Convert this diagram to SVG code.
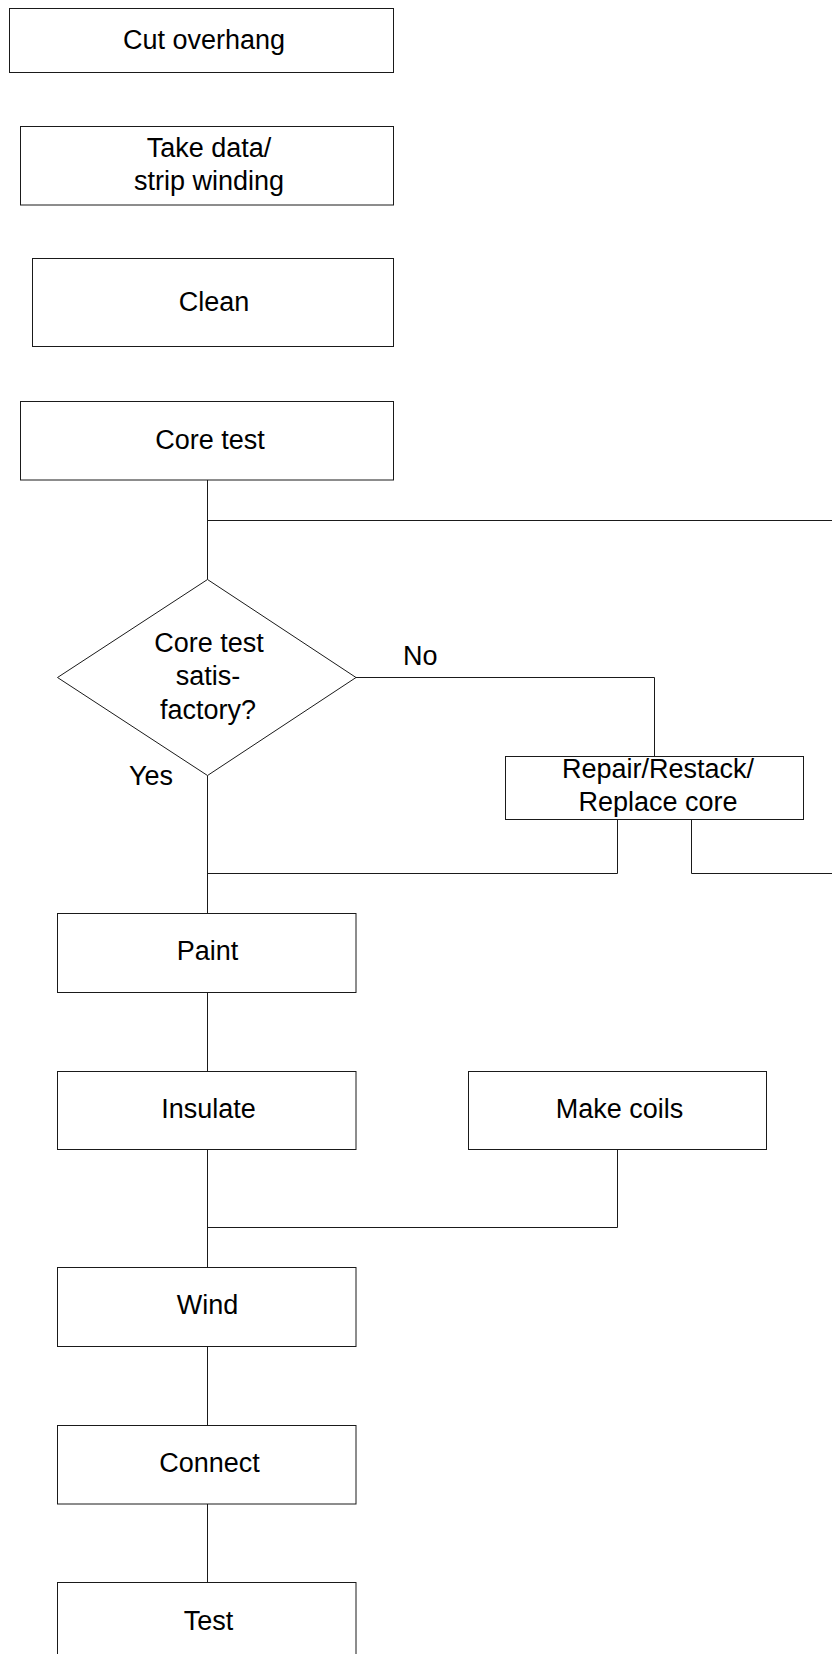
<svg xmlns="http://www.w3.org/2000/svg" width="832" height="1654" viewBox="0 0 832 1654">
<style>
.box{fill:#fff;stroke:#1a1a1a;stroke-width:1}
.ln{fill:none;stroke:#1a1a1a;stroke-width:1}
text{font-family:"Liberation Sans",Arial,sans-serif;font-size:27px;fill:#000;text-anchor:middle}
.lbl{text-anchor:start}
</style>
<rect width="832" height="1654" fill="#fff"/>
<g id="connectors">
<path class="ln" d="M207.5 480V579.5"/>
<path class="ln" d="M207.5 520.5H832"/>
<path class="ln" d="M356 677.5H654.5V756.5"/>
<path class="ln" d="M617.5 819.5V873.5H207.5"/>
<path class="ln" d="M691.5 819.5V873.5H832"/>
<path class="ln" d="M207.5 775.5V913.5"/>
<path class="ln" d="M207.5 992.5V1071.5"/>
<path class="ln" d="M207.5 1149.5V1267.5"/>
<path class="ln" d="M617.5 1149.5V1227.5H207.5"/>
<path class="ln" d="M207.5 1346.5V1425.5"/>
<path class="ln" d="M207.5 1504V1582.5"/>
<text class="lbl" x="403" y="665">No</text>
<text class="lbl" x="129" y="785">Yes</text>
</g>
<g id="cut-overhang"><rect class="box" x="9.5" y="8.5" width="384" height="64"/><text x="204" y="48.5">Cut overhang</text></g>
<g id="take-data"><rect class="box" x="20.5" y="126.5" width="373" height="78.5"/><text x="209" y="157">Take data/</text><text x="209" y="190">strip winding</text></g>
<g id="clean"><rect class="box" x="32.5" y="258.5" width="361" height="88"/><text x="214" y="310.5">Clean</text></g>
<g id="core-test"><rect class="box" x="20.5" y="401.5" width="373" height="78.5"/><text x="210" y="449">Core test</text></g>
<g id="decision"><polygon class="box" points="207.5,579.5 356,677.5 207.5,775.5 57.5,677.5"/><text x="209" y="651.5">Core test</text><text x="208" y="685">satis-</text><text x="208" y="718.5">factory?</text></g>
<g id="repair"><rect class="box" x="505.5" y="756.5" width="298" height="63"/><text x="658" y="777.5">Repair/Restack/</text><text x="658" y="811">Replace core</text></g>
<g id="paint"><rect class="box" x="57.5" y="913.5" width="298.5" height="79"/><text x="207.5" y="960">Paint</text></g>
<g id="insulate"><rect class="box" x="57.5" y="1071.5" width="298.5" height="78"/><text x="208.5" y="1117.5">Insulate</text></g>
<g id="make-coils"><rect class="box" x="468.5" y="1071.5" width="298" height="78"/><text x="619.5" y="1117.5">Make coils</text></g>
<g id="wind"><rect class="box" x="57.5" y="1267.5" width="298.5" height="79"/><text x="207.5" y="1314">Wind</text></g>
<g id="connect"><rect class="box" x="57.5" y="1425.5" width="298.5" height="78.5"/><text x="209.5" y="1471.5">Connect</text></g>
<g id="test"><rect class="box" x="57.5" y="1582.5" width="298.5" height="80"/><text x="208.5" y="1630">Test</text></g>
</svg>
